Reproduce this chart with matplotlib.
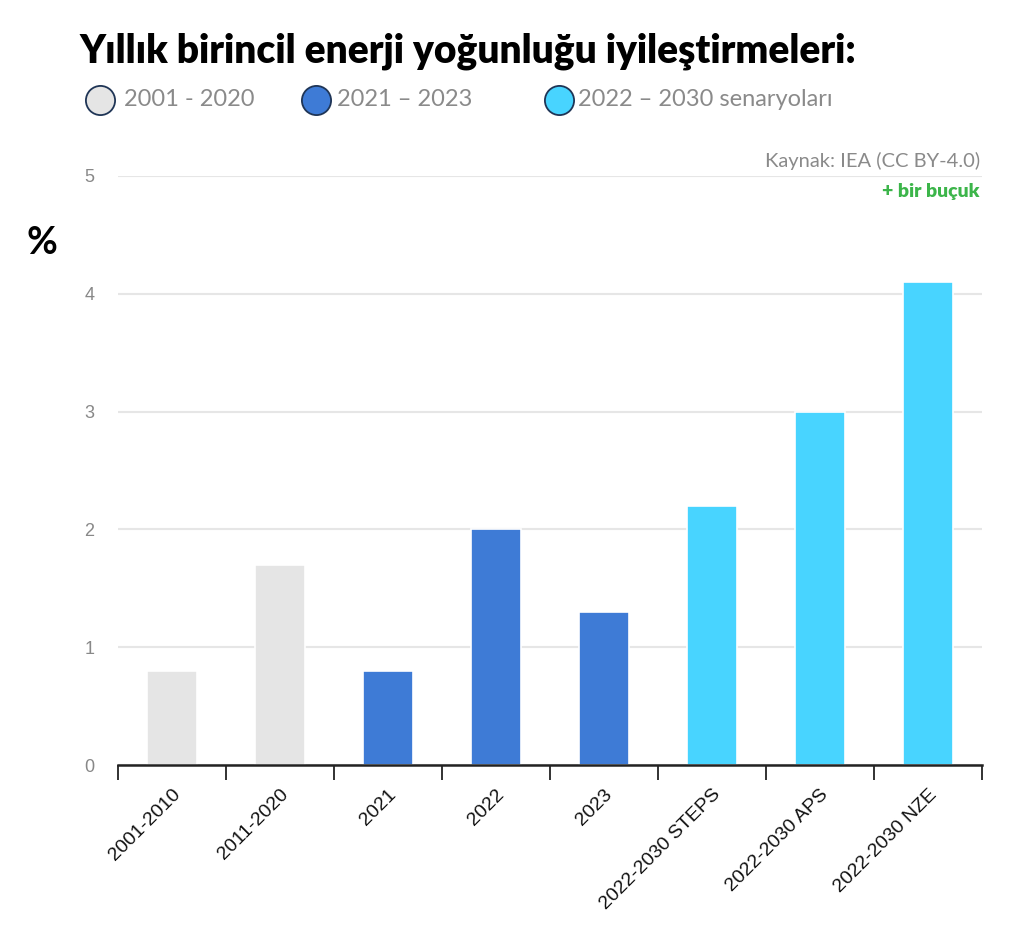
import matplotlib
matplotlib.use("Agg")
import matplotlib.pyplot as plt
from matplotlib.lines import Line2D

categories = ["2001-2010", "2011-2020", "2021", "2022", "2023",
              "2022-2030 STEPS", "2022-2030 APS", "2022-2030 NZE"]
values = [0.8, 1.7, 0.8, 2.0, 1.3, 2.2, 3.0, 4.1]
groups = [0, 0, 1, 1, 1, 2, 2, 2]
group_names = ["2001 - 2020", "2021 – 2023", "2022 – 2030 senaryoları"]
group_colors = ["#e5e5e5", "#3e7bd6", "#48d4ff"]
yticks = [0, 1, 2, 3, 4, 5]

W, H = 1024, 932
fig = plt.figure(figsize=(W / 100, H / 100), dpi=100)
ax = fig.add_axes([118 / W, 1 - 765 / H, 864 / W, 589 / H])

x = list(range(len(categories)))
colors = [group_colors[g] for g in groups]
ax.bar(x, values, width=0.47, color=colors, edgecolor="white", linewidth=1.2, zorder=3)

ax.set_xlim(-0.5, len(categories) - 0.5)
ax.set_ylim(0, 5)
ax.set_yticks(yticks)
ax.set_yticklabels([str(t) for t in yticks], fontsize=13, color="#888888",
                   family="Liberation Sans")
ax.tick_params(axis="y", length=0, pad=17)
ax.yaxis.grid(True, color="#e6e6e6", linewidth=1.5, zorder=0)
ax.set_axisbelow(True)

ax.set_xticks(x)
ax.set_xticklabels(categories, rotation=45, ha="right", rotation_mode="anchor",
                   fontsize=14, family="Liberation Sans", color="#111111")
ax.tick_params(axis="x", which="major", length=0, pad=15)
ax.set_xticks([i - 0.5 for i in range(len(categories) + 1)], minor=True)
ax.tick_params(axis="x", which="minor", length=11, width=1.3, color="#222222",
               direction="out")

for s in ["top", "right", "left"]:
    ax.spines[s].set_visible(False)
ax.spines["bottom"].set_color("#222222")
ax.spines["bottom"].set_linewidth(1.8)
ax.spines["bottom"].set_zorder(4)

fig.text(80 / W, 1 - 62 / H, "Yıllık birincil enerji yoğunluğu iyileştirmeleri:",
         fontsize=28, fontweight="heavy", family="Lato", color="black",
         ha="left", va="baseline")

circle_x = [100, 316, 559]
text_x = [124, 337, 578]
for i, name in enumerate(group_names):
    fig.add_artist(Line2D([circle_x[i] / W], [1 - 100 / H], marker="o",
                          markersize=21, markerfacecolor=group_colors[i],
                          markeredgecolor="#1f3556", markeredgewidth=1.3,
                          linestyle="none", transform=fig.transFigure))
    fig.text(text_x[i] / W, 1 - 100 / H, name, fontsize=17, color="#8a8a8a",
             family="Lato", ha="left", va="center")

fig.text(27 / W, 1 - 243 / H, "%", fontsize=27, fontweight="bold",
         family="Lato", color="black", ha="left", va="center")

fig.text(980 / W, 1 - 161 / H, "Kaynak: IEA (CC BY-4.0)", fontsize=14.5,
         color="#8a8a8a", family="Lato", ha="right", va="center")
fig.text(980 / W, 1 - 192 / H, "+ bir buçuk", fontsize=14, fontweight="heavy",
         color="#3cb54a", family="Lato", ha="right", va="center")

fig.savefig("out.png", dpi=100)
